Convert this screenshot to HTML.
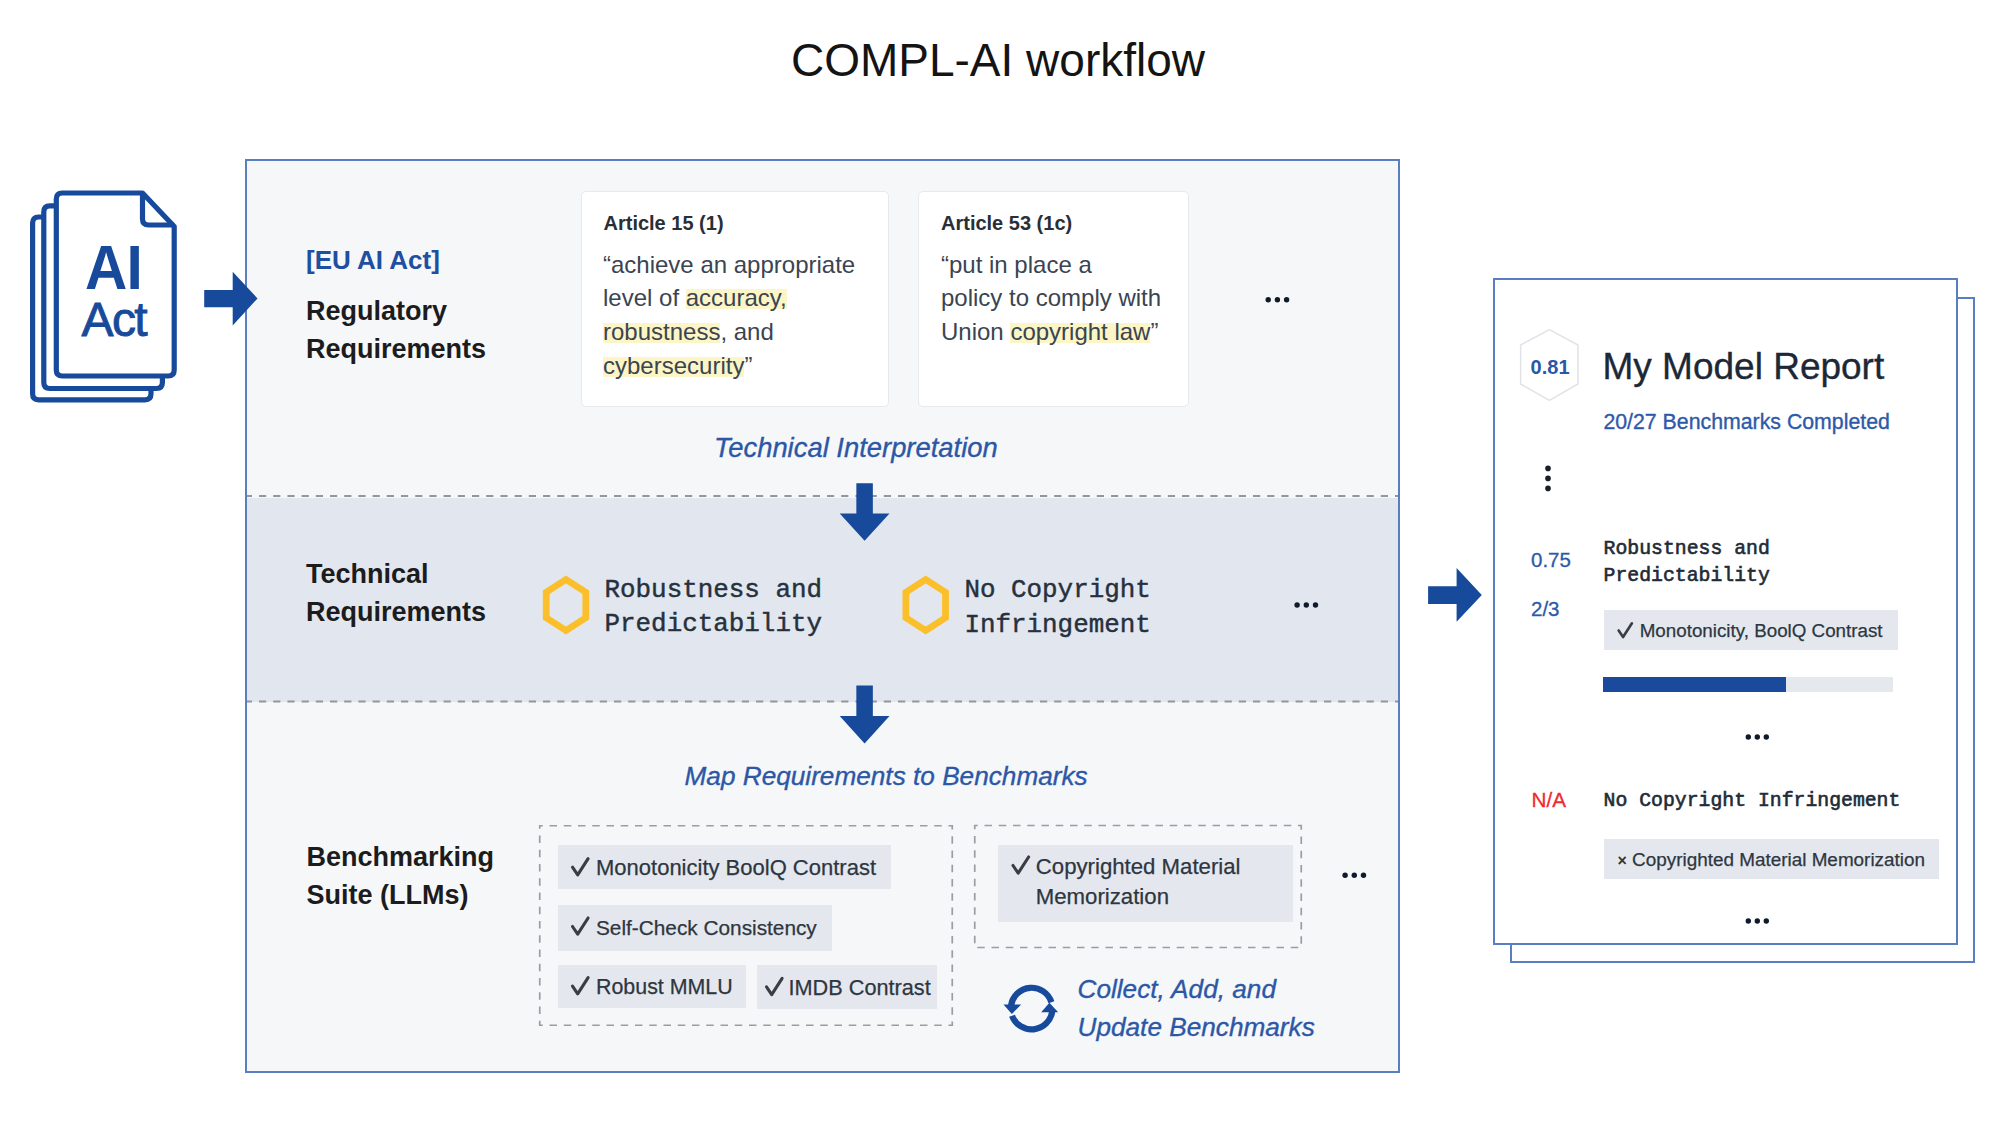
<!DOCTYPE html>
<html><head><meta charset="utf-8"><title>COMPL-AI workflow</title>
<style>
html,body{margin:0;padding:0;background:#fff;}
body{width:2000px;height:1126px;position:relative;overflow:hidden;}
.t{position:absolute;white-space:nowrap;}
.b{position:absolute;}
.hl{background:linear-gradient(transparent 17%,#fcf5c6 17%,#fcf5c6 91%,transparent 91%);}
svg{position:absolute;left:0;top:0;}
</style></head><body>

<div class="b" style="left:245.00px;top:159.00px;width:1155.00px;height:914.00px;border:2px solid #5a7fc0;background:#f6f7f9;box-sizing:border-box;"></div>
<div class="b" style="left:247.00px;top:498.00px;width:1151.00px;height:204.00px;background:#e2e7ef;"></div>
<div class="b" style="left:580.50px;top:190.50px;width:308.50px;height:216.50px;background:#fff;border:1px solid #e7e9ed;border-radius:5px;box-sizing:border-box;"></div>
<div class="b" style="left:918.00px;top:190.50px;width:271.00px;height:216.50px;background:#fff;border:1px solid #e7e9ed;border-radius:5px;box-sizing:border-box;"></div>
<div class="b" style="left:558.00px;top:844.50px;width:333.30px;height:44.90px;background:#e4e8ee;"></div>
<div class="b" style="left:558.00px;top:904.80px;width:273.70px;height:45.90px;background:#e4e8ee;"></div>
<div class="b" style="left:558.00px;top:965.00px;width:187.60px;height:42.60px;background:#e4e8ee;"></div>
<div class="b" style="left:757.30px;top:965.00px;width:179.30px;height:43.60px;background:#e4e8ee;"></div>
<div class="b" style="left:997.60px;top:845.10px;width:295.20px;height:76.80px;background:#e4e8ee;"></div>
<div class="b" style="left:1510.00px;top:297.00px;width:465.00px;height:666.00px;border:2px solid #5a7fc0;background:#fff;box-sizing:border-box;"></div>
<div class="b" style="left:1493.00px;top:278.00px;width:465.00px;height:667.00px;border:2px solid #5a7fc0;background:#fff;box-sizing:border-box;"></div>
<div class="b" style="left:1603.60px;top:610.20px;width:294.10px;height:39.60px;background:#e4e8ee;"></div>
<div class="b" style="left:1603.00px;top:677.30px;width:290.30px;height:14.30px;background:#e5e8ed;"></div>
<div class="b" style="left:1603.00px;top:677.30px;width:183.00px;height:14.30px;background:#1a4a9c;"></div>
<div class="b" style="left:1603.60px;top:839.40px;width:335.70px;height:39.40px;background:#e4e8ee;"></div>
<svg width="2000" height="1126" viewBox="0 0 2000 1126">
<path d="M43.8 217 L38.6 217 Q32.6 217 32.6 223 L32.6 393.8 Q32.6 399.8 38.6 399.8 L145 399.8 Q151 399.8 151 393.8 L151 386" fill="none" stroke="#174a9b" stroke-width="5.2"/>
<path d="M56.3 205.8 L49.8 205.8 Q43.8 205.8 43.8 211.8 L43.8 382.5 Q43.8 388.5 49.8 388.5 L156.4 388.5 Q162.4 388.5 162.4 382.5 L162.4 374" fill="none" stroke="#174a9b" stroke-width="5.2"/>
<path d="M56.3 199 Q56.3 193 62.3 193 L142.5 193 L174.2 226.5 L174.2 370 Q174.2 376 168.2 376 L62.3 376 Q56.3 376 56.3 370 Z" fill="#fff" stroke="#174a9b" stroke-width="5.2" stroke-linejoin="round"/>
<path d="M142.5 193 L142.5 219 Q142.5 225 148.5 225 L174.2 225" fill="none" stroke="#174a9b" stroke-width="5.2"/>
<polygon points="204.2,289.9 232.7,289.9 232.7,271.7 257.5,298.4 232.7,325.4 232.7,307.3 204.2,307.3" fill="#174a9b"/>
<line x1="247" y1="496" x2="1398" y2="496" stroke="#93969c" stroke-width="2" stroke-dasharray="7.2 7" stroke-dashoffset="2.2"/>
<line x1="247" y1="701.5" x2="1398" y2="701.5" stroke="#93969c" stroke-width="2" stroke-dasharray="7.2 7" stroke-dashoffset="2.2"/>
<circle cx="1268.20" cy="299.7" r="2.7" fill="#0f1a2b"/>
<circle cx="1277.40" cy="299.7" r="2.7" fill="#0f1a2b"/>
<circle cx="1286.60" cy="299.7" r="2.7" fill="#0f1a2b"/>
<polygon points="856.35,483.2 872.85,483.2 872.85,513.6 889.5,513.6 864.6,540.7 839.7,513.6 856.35,513.6" fill="#174a9b"/>
<polygon points="856.35,685.6 872.85,685.6 872.85,716 889.5,716 864.6,743.5 839.7,716 856.35,716" fill="#174a9b"/>
<polygon points="566.00,579.50 585.80,592.25 585.80,617.75 566.00,630.50 546.20,617.75 546.20,592.25" fill="none" stroke="#fcbf2c" stroke-width="6.8" stroke-linejoin="miter"/>
<polygon points="925.70,579.50 945.50,592.25 945.50,617.75 925.70,630.50 905.90,617.75 905.90,592.25" fill="none" stroke="#fcbf2c" stroke-width="6.8" stroke-linejoin="miter"/>
<circle cx="1297.10" cy="605" r="2.7" fill="#0f1a2b"/>
<circle cx="1306.30" cy="605" r="2.7" fill="#0f1a2b"/>
<circle cx="1315.50" cy="605" r="2.7" fill="#0f1a2b"/>
<rect x="539.75" y="825.75" width="412.5" height="199.5" fill="none" stroke="#9a9da3" stroke-width="1.7" stroke-dasharray="7.5 6.75" stroke-dashoffset="4.5"/>
<rect x="974.75" y="825.5" width="326.5" height="122" fill="none" stroke="#9a9da3" stroke-width="1.7" stroke-dasharray="7.5 6.75" stroke-dashoffset="4.5"/>
<path d="M572.50 867.20 L577.70 874.90 L588.10 858.70" fill="none" stroke="#3a3e44" stroke-width="3.10" stroke-linecap="round" stroke-linejoin="round"/>
<path d="M572.50 926.50 L577.70 934.20 L588.10 918.00" fill="none" stroke="#3a3e44" stroke-width="3.10" stroke-linecap="round" stroke-linejoin="round"/>
<path d="M572.50 986.10 L577.70 993.80 L588.10 977.60" fill="none" stroke="#3a3e44" stroke-width="3.10" stroke-linecap="round" stroke-linejoin="round"/>
<path d="M766.50 986.90 L771.70 994.60 L782.10 978.40" fill="none" stroke="#3a3e44" stroke-width="3.10" stroke-linecap="round" stroke-linejoin="round"/>
<path d="M1013.00 865.50 L1018.20 873.20 L1028.60 857.00" fill="none" stroke="#3a3e44" stroke-width="3.10" stroke-linecap="round" stroke-linejoin="round"/>
<circle cx="1345.10" cy="875.2" r="2.7" fill="#0f1a2b"/>
<circle cx="1354.30" cy="875.2" r="2.7" fill="#0f1a2b"/>
<circle cx="1363.50" cy="875.2" r="2.7" fill="#0f1a2b"/>
<path d="M1051.4 1002.2 A20.8 20.8 0 0 0 1011.0 1005.7" fill="none" stroke="#174a9b" stroke-width="6.2"/>
<polygon points="1003.5,1004.6 1021.2,1004.6 1011.8,1014" fill="#174a9b"/>
<path d="M1012.05 1015.7 A20.8 20.8 0 0 0 1052.2 1011.5" fill="none" stroke="#174a9b" stroke-width="6.2"/>
<polygon points="1041.2,1012.2 1058.2,1012.2 1049.4,1002.8" fill="#174a9b"/>
<polygon points="1428.1,586.3 1456.6,586.3 1456.6,568.1 1481.8,595.1 1456.6,621.8 1456.6,604 1428.1,604" fill="#174a9b"/>
<polygon points="1549.4,329.6 1578,345 1578,384 1549.4,400.4 1520.6,384 1520.6,345" fill="#fff" stroke="#e0e3e8" stroke-width="1.5"/>
<circle cx="1548" cy="468.4" r="2.8" fill="#1a1f29"/>
<circle cx="1548" cy="478.4" r="2.8" fill="#1a1f29"/>
<circle cx="1548" cy="488.4" r="2.8" fill="#1a1f29"/>
<path d="M1618.65 630.50 L1623.07 637.04 L1631.91 623.27" fill="none" stroke="#3a3e44" stroke-width="2.63" stroke-linecap="round" stroke-linejoin="round"/>
<circle cx="1748.30" cy="737" r="2.7" fill="#0f1a2b"/>
<circle cx="1757.30" cy="737" r="2.7" fill="#0f1a2b"/>
<circle cx="1766.30" cy="737" r="2.7" fill="#0f1a2b"/>
<circle cx="1748.30" cy="921" r="2.7" fill="#0f1a2b"/>
<circle cx="1757.30" cy="921" r="2.7" fill="#0f1a2b"/>
<circle cx="1766.30" cy="921" r="2.7" fill="#0f1a2b"/>
</svg>
<div class="t" style="left:-2.00px;width:2000px;text-align:center;top:32.95px;font-family:'Liberation Sans', sans-serif;font-size:46px;line-height:55.2px;font-weight:400;font-style:normal;color:#141414;">COMPL-AI workflow</div>
<div class="t" style="left:85.20px;top:229.86px;font-family:'Liberation Sans', sans-serif;font-size:63px;line-height:75.6px;font-weight:700;font-style:normal;color:#174a9b;letter-spacing:-1px;transform:scaleX(0.93);transform-origin:0 0;">AI</div>
<div class="t" style="left:81.50px;top:291.06px;font-family:'Liberation Sans', sans-serif;font-size:48px;line-height:57.6px;font-weight:400;font-style:normal;color:#174a9b;letter-spacing:-1.6px;-webkit-text-stroke:0.9px currentColor;">Act</div>
<div class="t" style="left:306.00px;top:244.89px;font-family:'Liberation Sans', sans-serif;font-size:26px;line-height:31.2px;font-weight:700;font-style:normal;color:#1f4fa1;">[EU AI Act]</div>
<div class="t" style="left:306.00px;top:291.84px;font-family:'Liberation Sans', sans-serif;font-size:27px;line-height:38px;font-weight:700;font-style:normal;color:#1c1c1c;">Regulatory<br>Requirements</div>
<div class="t" style="left:306.00px;top:554.84px;font-family:'Liberation Sans', sans-serif;font-size:27px;line-height:38px;font-weight:700;font-style:normal;color:#1c1c1c;">Technical<br>Requirements</div>
<div class="t" style="left:306.50px;top:838.44px;font-family:'Liberation Sans', sans-serif;font-size:27px;line-height:38px;font-weight:700;font-style:normal;color:#1c1c1c;">Benchmarking<br>Suite (LLMs)</div>
<div class="t" style="left:603.50px;top:211.07px;font-family:'Liberation Sans', sans-serif;font-size:20px;line-height:24.0px;font-weight:700;font-style:normal;color:#2a2f37;">Article 15 (1)</div>
<div class="t" style="left:941.00px;top:211.07px;font-family:'Liberation Sans', sans-serif;font-size:20px;line-height:24.0px;font-weight:700;font-style:normal;color:#2a2f37;">Article 53 (1c)</div>
<div class="t" style="left:603.00px;top:247.88px;font-family:'Liberation Sans', sans-serif;font-size:24px;line-height:33.6px;font-weight:400;font-style:normal;color:#3b4451;">“achieve an appropriate<br>level of <span class="hl">accuracy,</span><br><span class="hl">robustness</span>, and<br><span class="hl">cybersecurity</span>”</div>
<div class="t" style="left:941.00px;top:247.88px;font-family:'Liberation Sans', sans-serif;font-size:24px;line-height:33.6px;font-weight:400;font-style:normal;color:#3b4451;">“put in place a<br>policy to comply with<br>Union <span class="hl">copyright law</span>”</div>
<div class="t" style="left:714.00px;top:431.56px;font-family:'Liberation Sans', sans-serif;font-size:27.4px;line-height:32.88px;font-weight:400;font-style:italic;color:#2c57a6;-webkit-text-stroke:0.35px currentColor;">Technical Interpretation</div>
<div class="t" style="left:604.50px;top:572.81px;font-family:'Liberation Mono', monospace;font-size:25.9px;line-height:34.6px;font-weight:400;font-style:normal;color:#27313d;-webkit-text-stroke:0.45px currentColor;">Robustness and<br>Predictability</div>
<div class="t" style="left:964.40px;top:573.11px;font-family:'Liberation Mono', monospace;font-size:25.9px;line-height:34.6px;font-weight:400;font-style:normal;color:#27313d;-webkit-text-stroke:0.45px currentColor;">No Copyright<br>Infringement</div>
<div class="t" style="left:684.50px;top:760.50px;font-family:'Liberation Sans', sans-serif;font-size:26.2px;line-height:31.44px;font-weight:400;font-style:italic;color:#2c57a6;-webkit-text-stroke:0.35px currentColor;">Map Requirements to Benchmarks</div>
<div class="t" style="left:596.00px;top:855.47px;font-family:'Liberation Sans', sans-serif;font-size:22px;line-height:26.4px;font-weight:400;font-style:normal;color:#2e3640;-webkit-text-stroke:0.25px currentColor;">Monotonicity BoolQ Contrast</div>
<div class="t" style="left:596.00px;top:915.91px;font-family:'Liberation Sans', sans-serif;font-size:20.8px;line-height:24.96px;font-weight:400;font-style:normal;color:#2e3640;-webkit-text-stroke:0.25px currentColor;">Self-Check Consistency</div>
<div class="t" style="left:596.00px;top:974.94px;font-family:'Liberation Sans', sans-serif;font-size:21.4px;line-height:25.68px;font-weight:400;font-style:normal;color:#2e3640;-webkit-text-stroke:0.25px currentColor;">Robust MMLU</div>
<div class="t" style="left:788.50px;top:975.46px;font-family:'Liberation Sans', sans-serif;font-size:21.7px;line-height:26.04px;font-weight:400;font-style:normal;color:#2e3640;-webkit-text-stroke:0.25px currentColor;">IMDB Contrast</div>
<div class="t" style="left:1035.80px;top:852.40px;font-family:'Liberation Sans', sans-serif;font-size:22.2px;line-height:29.4px;font-weight:400;font-style:normal;color:#2e3640;-webkit-text-stroke:0.25px currentColor;">Copyrighted Material<br>Memorization</div>
<div class="t" style="left:1077.50px;top:971.37px;font-family:'Liberation Sans', sans-serif;font-size:26.2px;line-height:37.7px;font-weight:400;font-style:italic;color:#2c57a6;-webkit-text-stroke:0.35px currentColor;">Collect, Add, and<br>Update Benchmarks</div>
<div class="t" style="left:1530.60px;top:355.07px;font-family:'Liberation Sans', sans-serif;font-size:20px;line-height:24.0px;font-weight:700;font-style:normal;color:#2a57a6;">0.81</div>
<div class="t" style="left:1602.50px;top:345.47px;font-family:'Liberation Sans', sans-serif;font-size:37px;line-height:44.4px;font-weight:400;font-style:normal;color:#1c2838;-webkit-text-stroke:0.35px currentColor;">My Model Report</div>
<div class="t" style="left:1603.40px;top:410.24px;font-family:'Liberation Sans', sans-serif;font-size:21.3px;line-height:25.56px;font-weight:400;font-style:normal;color:#2d5aa8;-webkit-text-stroke:0.35px currentColor;">20/27 Benchmarks Completed</div>
<div class="t" style="left:1531.00px;top:547.89px;font-family:'Liberation Sans', sans-serif;font-size:20.5px;line-height:24.6px;font-weight:400;font-style:normal;color:#2d5aa8;-webkit-text-stroke:0.3px currentColor;">0.75</div>
<div class="t" style="left:1531.00px;top:597.39px;font-family:'Liberation Sans', sans-serif;font-size:20.5px;line-height:24.6px;font-weight:400;font-style:normal;color:#2d5aa8;-webkit-text-stroke:0.3px currentColor;">2/3</div>
<div class="t" style="left:1603.60px;top:535.53px;font-family:'Liberation Mono', monospace;font-size:19.8px;line-height:27px;font-weight:400;font-style:normal;color:#222b36;-webkit-text-stroke:0.6px currentColor;">Robustness and<br>Predictability</div>
<div class="t" style="left:1639.70px;top:620.40px;font-family:'Liberation Sans', sans-serif;font-size:18.8px;line-height:22.56px;font-weight:400;font-style:normal;color:#2e3640;-webkit-text-stroke:0.25px currentColor;">Monotonicity, BoolQ Contrast</div>
<div class="t" style="left:1531.60px;top:788.30px;font-family:'Liberation Sans', sans-serif;font-size:20.7px;line-height:24.84px;font-weight:400;font-style:normal;color:#ee2a2e;-webkit-text-stroke:0.3px currentColor;">N/A</div>
<div class="t" style="left:1603.60px;top:790.05px;font-family:'Liberation Mono', monospace;font-size:19.8px;line-height:23.76px;font-weight:400;font-style:normal;color:#222b36;-webkit-text-stroke:0.6px currentColor;">No Copyright Infringement</div>
<div class="t" style="left:1617.50px;top:851.25px;font-family:'Liberation Sans', sans-serif;font-size:16px;line-height:19.2px;font-weight:700;font-style:normal;color:#2e3640;">×</div>
<div class="t" style="left:1632.10px;top:848.51px;font-family:'Liberation Sans', sans-serif;font-size:18.9px;line-height:22.68px;font-weight:400;font-style:normal;color:#2e3640;-webkit-text-stroke:0.25px currentColor;">Copyrighted Material Memorization</div>
</body></html>
